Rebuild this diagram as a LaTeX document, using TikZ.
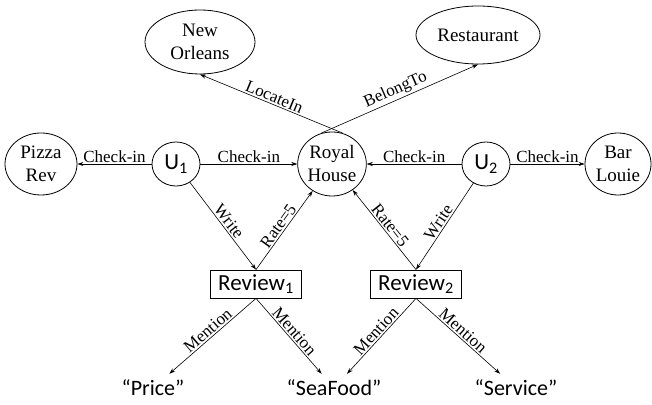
\documentclass[tikz,border=0pt]{standalone}
\usepackage{fontspec}
\setmainfont{Liberation Serif}
\newfontfamily\calibri{Carlito}
\usetikzlibrary{shapes,arrows.meta,positioning}

\begin{document}
\begin{tikzpicture}[
        x=1pt, y=1pt,
        place/.style={ellipse, draw, line width=0.8pt, inner sep=0pt, align=center, font=\fontsize{19}{23}\selectfont},
        user/.style={ellipse, draw, line width=0.8pt, minimum width=48pt, minimum height=44pt, inner sep=0pt, font=\calibri\fontsize{23}{26}\selectfont},
        review/.style={rectangle, draw, line width=0.8pt, minimum width=91pt, minimum height=28pt, inner sep=0pt, font=\calibri\fontsize{23}{26}\selectfont},
        word/.style={inner xsep=0pt, inner ysep=6pt, font=\calibri\fontsize{22}{26}\selectfont},
        arrow/.style={line width=0.6pt, -{Stealth[length=6pt, width=4pt]}},
        lbl/.style={font=\fontsize{17}{19}\selectfont, inner sep=1.5pt}
    ]
        \useasboundingbox (0,0) rectangle (652,404);

        % Places
        \node[place, minimum width=110pt, minimum height=64pt] (orleans) at (200,362) {New\\Orleans};
        \node[place, minimum width=124pt, minimum height=58pt] (restaurant) at (478,369) {Restaurant};
        \node[place, minimum width=72pt, minimum height=62pt] (pizza) at (41,240) {Pizza\\Rev};
        \node[place, minimum width=68pt, minimum height=64pt] (royal) at (332,240) {Royal\\House};
        \node[place, minimum width=66pt, minimum height=62pt] (louie) at (618,240) {Bar\\Louie};

        % Users and reviews
        \node[user] (u1) at (176,240) {U\textsubscript{1}};
        \node[user] (u2) at (486,240) {U\textsubscript{2}};
        \node[review] (rev1) at (256,120) {Review\textsubscript{1}};
        \node[review] (rev2) at (416,120) {Review\textsubscript{2}};

        % Aspects
        \node[word] (price) at (153,16) {“Price”};
        \node[word] (seafood) at (334,16) {“SeaFood”};
        \node[word] (service) at (516,16) {“Service”};

        % Connections
        \draw[arrow] (royal.70) -- node[lbl, sloped, above] {LocateIn} (orleans.south);
        \draw[arrow] (royal.110) -- node[lbl, sloped, above] {BelongTo} (restaurant.south);
        \draw[arrow] (u1) -- node[lbl, above] {Check-in} (pizza);
        \draw[arrow] (u1) -- node[lbl, above] {Check-in} (royal);
        \draw[arrow] (u2) -- node[lbl, above] {Check-in} (royal);
        \draw[arrow] (u2) -- node[lbl, above] {Check-in} (louie);
        \draw[arrow] (u1) -- node[lbl, sloped, above] {Write} (rev1.north);
        \draw[arrow] (u2) -- node[lbl, sloped, above] {Write} (rev2.north);
        \draw[arrow] (rev1.north) -- node[lbl, sloped, above] {Rate=5} (royal);
        \draw[arrow] (rev2.north) -- node[lbl, sloped, above] {Rate=5} (royal);
        \draw[arrow] (rev1.south) -- node[lbl, sloped, above] {Mention} (price);
        \draw[arrow] (rev1.south) -- node[lbl, sloped, above] {Mention} (seafood);
        \draw[arrow] (rev2.south) -- node[lbl, sloped, above] {Mention} (seafood);
        \draw[arrow] (rev2.south) -- node[lbl, sloped, above] {Mention} (service);
    \end{tikzpicture}
\end{document}
